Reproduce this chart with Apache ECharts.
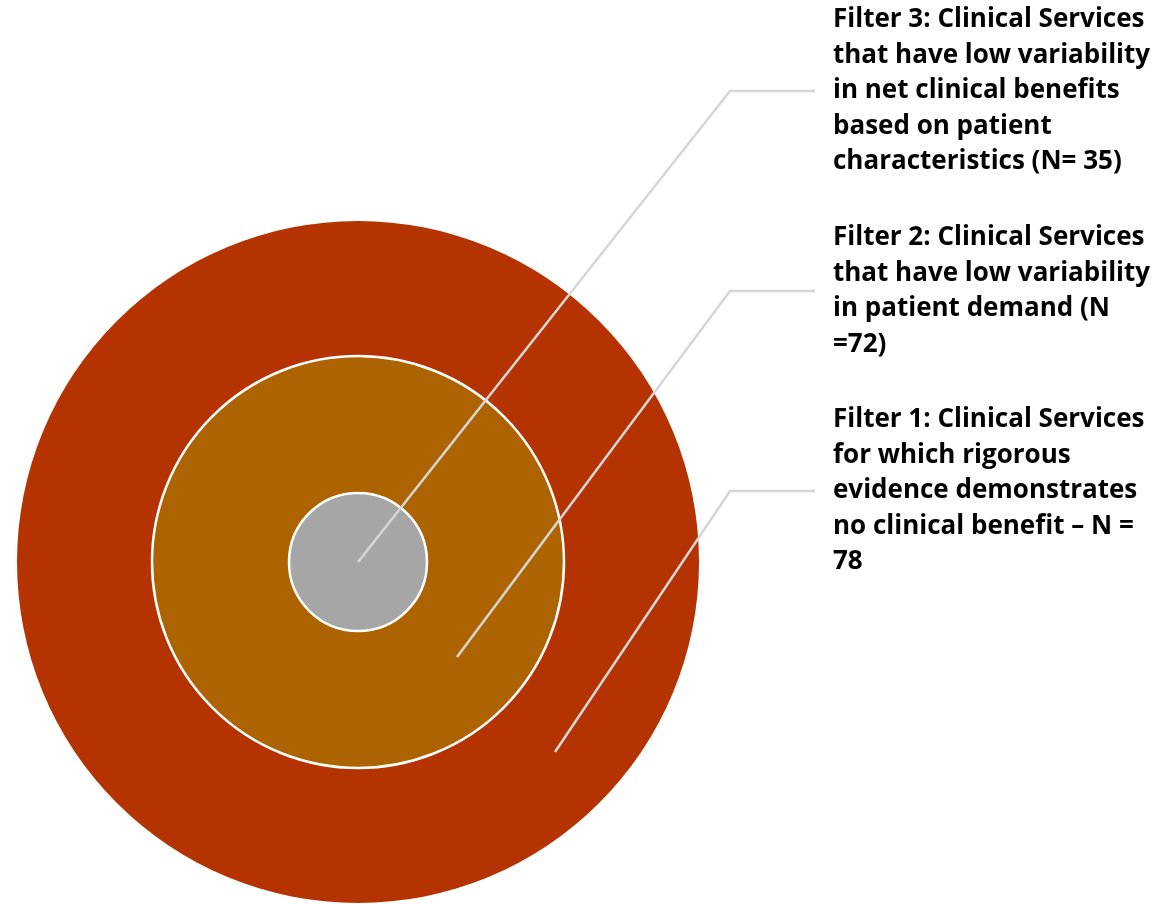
<!DOCTYPE html>
<html>
<head>
<meta charset="utf-8">
<script src="https://cdn.jsdelivr.net/npm/echarts@6/dist/echarts.min.js"></script>
<style>
  html, body { margin: 0; padding: 0; background: #fff; }
  #filterRingsID { width: 1163px; height: 904px; }
</style>
</head>
<body>
<div id="filterRingsID"></div>
<script>
// filters, outermost first
var filterNames = ['Filter 1', 'Filter 2', 'Filter 3'];
var filterCounts = [78, 72, 35];
var filterLabels = [
    'Filter 1: Clinical Services\nfor which rigorous\nevidence demonstrates\nno clinical benefit \u2013 N =\n78',
    'Filter 2: Clinical Services\nthat have low variability\nin patient demand (N\n=72)',
    'Filter 3: Clinical Services\nthat have low variability\nin net clinical benefits\nbased on patient\ncharacteristics (N= 35)'
];

var filterRings = echarts.init(document.getElementById('filterRingsID'));

var ringRadius = [341, 206, 69];
var ringColor = ['#B53300', '#AD6400', '#A6A6A6'];
// leader line: start point inside circle, elbow, end
var leaderLines = [
    [[555, 752], [730, 491], [815, 491]],
    [[457, 657], [730, 291], [815, 291]],
    [[358, 562], [730, 91], [815, 91]]
];

var series = filterNames.map(function (name, i) {
    return {
        name: name,
        type: 'pie',
        center: [358, 562],
        radius: [0, ringRadius[i]],
        silent: true,
        animation: false,
        z: i + 1,
        label: { show: false },
        labelLine: { show: false },
        itemStyle: {
            color: ringColor[i],
            borderColor: i === 0 ? 'transparent' : '#ffffff',
            borderWidth: i === 0 ? 0 : 2.5
        },
        data: [{ name: filterLabels[i], value: filterCounts[i] }]
    };
});

var graphics = [];
leaderLines.forEach(function (pts, i) {
    graphics.push({
        type: 'polyline',
        z: 100,
        shape: { points: pts },
        style: { stroke: '#D6D6D6', lineWidth: 2.5, fill: null }
    });
    graphics.push({
        type: 'text',
        z: 100,
        x: 833,
        y: pts[2][1],
        style: {
            text: filterLabels[i],
            fill: '#000000',
            font: 'bold 26px "Open Sans"',
            lineHeight: 35.5,
            verticalAlign: 'middle',
            align: 'left'
        }
    });
});

var option_filterRings = {
    backgroundColor: '#ffffff',
    series: series,
    graphic: graphics
};

option_filterRings && filterRings.setOption(option_filterRings);
</script>
</body>
</html>
